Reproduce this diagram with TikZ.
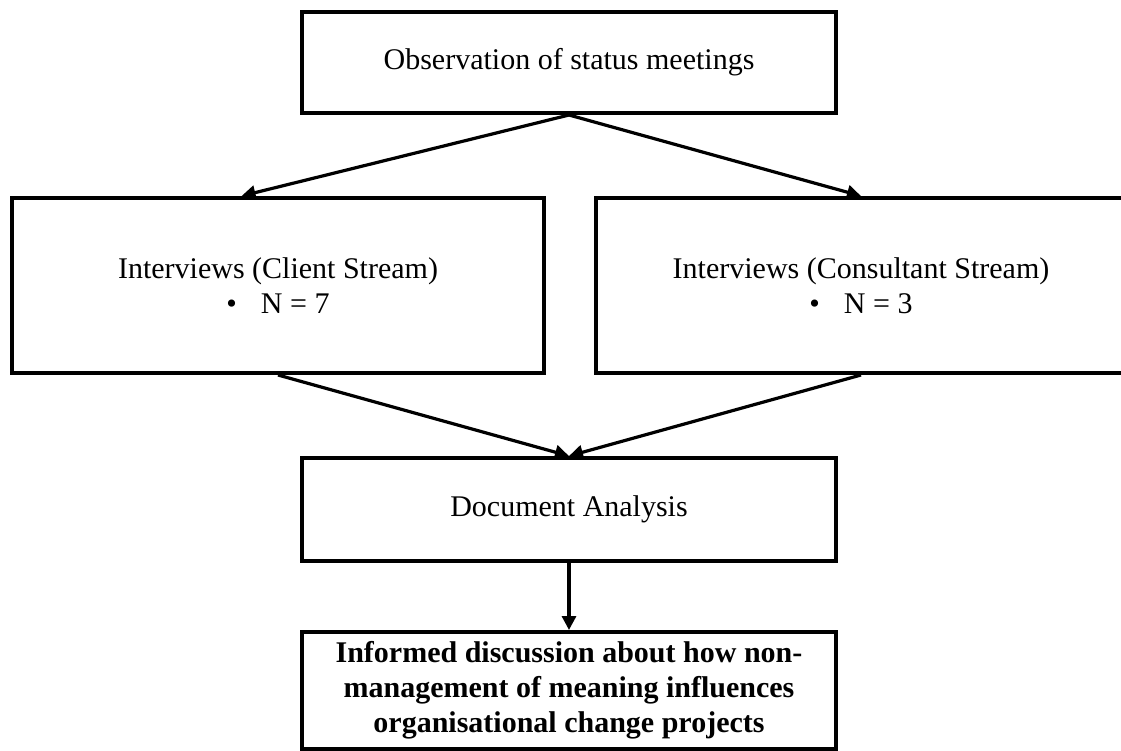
\documentclass[tikz,border=0pt]{standalone}
\usepackage{fontspec}
\setmainfont{Liberation Serif}
\usetikzlibrary{arrows.meta,calc}
\begin{document}
\begin{tikzpicture}[x=1pt,y=-1pt,
  box/.style={draw=black,line width=4pt,rectangle,inner sep=0pt,align=center,
    font=\fontsize{30}{35}\selectfont},
  conn/.style={draw=black,line width=3.2pt,-{Triangle[length=14pt,width=14pt]}}]
\useasboundingbox (0,0) rectangle (1121,751);
\fill[white] (0,0) rectangle (1121,751);
\clip (0,0) rectangle (1121,751);
\node[box,minimum width=534pt,minimum height=101pt] (top) at (569,62.5) {Observation of status meetings};
\node[box,minimum width=532pt,minimum height=175pt] (left) at (278,285.5)
  {Interviews (Client Stream)\\ •\hspace{24pt}N = 7};
\node[box,minimum width=530pt,minimum height=175pt] (right) at (861,285.5)
  {Interviews (Consultant Stream)\\ •\hspace{24pt}N = 3};
\node[box,minimum width=534pt,minimum height=103pt] (da) at (569,509.5) {Document Analysis};
\node[box,minimum width=534pt,minimum height=117pt,font=\fontsize{30}{35}\selectfont\bfseries] (bot) at (569,690.5)
  {Informed discussion about how non-\\management of meaning influences\\organisational change projects};
\draw[conn] (top.south) -- ($(left.north west)!0.432!(left.north east)$);
\draw[conn] (top.south) -- (right.north);
\draw[conn] (left.south) -- (da.north);
\draw[conn] (right.south) -- (da.north);
\draw[conn] (da.south) -- (bot.north);
\end{tikzpicture}
\end{document}
